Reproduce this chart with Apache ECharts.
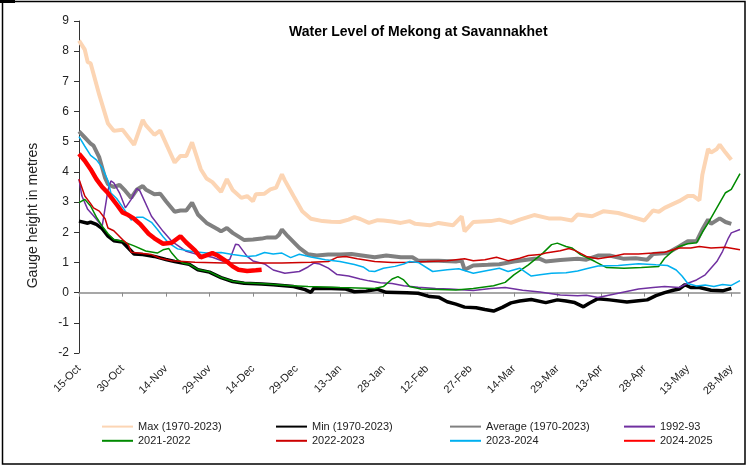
<!DOCTYPE html>
<html lang="en">
<head>
<meta charset="UTF-8">
<title>Water Level of Mekong at Savannakhet</title>
<script src="https://cdn.jsdelivr.net/npm/echarts@6/dist/echarts.min.js"></script>
<style>
  html, body { margin: 0; padding: 0; background: #fff; }
  #main { width: 747px; height: 465px; }
</style>
</head>
<body>
<div id="main"></div>
<script type="text/javascript">
// x categories: one per day, index 0 = 15-Oct ... 228 = 31-May
var monthNames = ['Jan','Feb','Mar','Apr','May','Jun','Jul','Aug','Sep','Oct','Nov','Dec'];
var days = [];
for (var i = 0; i < 229; i++) {
    var d = new Date(2024, 9, 15 + i);
    days.push(d.getDate() + '-' + monthNames[d.getMonth()]);
}

// [day index, gauge height (m)]
var maxLvl = [[0,8.35],[2,8.05],[3,7.64],[4,7.6],[7,6.55],[10,5.6],[12,5.36],[15,5.4],[19,4.9],[22,5.72],[23,5.55],[26,5.23],[28,5.37],[33,4.31],[35,4.53],[37,4.53],[39,4.98],[42,4.09],[44,3.78],[46,3.66],[49,3.34],[51,3.76],[53,3.4],[56,3.14],[58,3.2],[60,3.03],[61,3.26],[64,3.28],[66,3.42],[68,3.48],[69,3.7],[70,3.92],[71,3.72],[74,3.2],[77,2.7],[80,2.45],[84,2.37],[87,2.35],[90,2.34],[93,2.42],[95,2.5],[97,2.44],[100,2.31],[103,2.4],[105,2.39],[108,2.36],[111,2.31],[114,2.37],[116,2.28],[121,2.23],[124,2.31],[129,2.23],[132,2.53],[133,2.03],[136,2.34],[142,2.37],[145,2.42],[149,2.31],[152,2.42],[157,2.57],[162,2.46],[166,2.46],[170,2.39],[172,2.59],[177,2.53],[181,2.7],[186,2.64],[191,2.5],[195,2.39],[198,2.72],[200,2.68],[202,2.81],[207,3.03],[210,3.2],[212,3.2],[214,3.06],[215,3.9],[217,4.76],[218,4.64],[220,4.76],[221,4.9],[223,4.64],[225,4.4]];
var minLvl = [[0,2.37],[3,2.3],[4,2.34],[6,2.26],[8,2.12],[10,1.87],[12,1.72],[15,1.68],[17,1.48],[19,1.28],[22,1.26],[26,1.2],[30,1.1],[33,1.03],[38,0.94],[41,0.76],[45,0.68],[49,0.5],[53,0.37],[57,0.31],[63,0.29],[67,0.26],[74,0.2],[78,0.1],[80,0.01],[81,0.14],[87,0.14],[92,0.12],[95,0.03],[99,0.05],[103,0.11],[106,0.01],[113,0.0],[117,-0.02],[121,-0.13],[124,-0.15],[127,-0.3],[130,-0.38],[133,-0.48],[137,-0.5],[140,-0.56],[143,-0.61],[146,-0.49],[149,-0.34],[152,-0.28],[156,-0.23],[161,-0.33],[165,-0.24],[168,-0.28],[171,-0.33],[174,-0.47],[176,-0.35],[179,-0.2],[183,-0.24],[189,-0.31],[193,-0.27],[196,-0.24],[199,-0.1],[202,0.0],[205,0.08],[207,0.12],[209,0.26],[211,0.17],[214,0.17],[218,0.08],[222,0.06],[225,0.14]];
var avgLvl = [[0,5.34],[2,5.14],[4,4.94],[5,4.87],[7,4.48],[9,3.8],[10,3.59],[12,3.5],[14,3.57],[16,3.37],[18,3.14],[20,3.42],[22,3.53],[23,3.42],[26,3.26],[28,3.28],[30,3.03],[33,2.68],[35,2.72],[37,2.72],[39,2.98],[41,2.59],[44,2.31],[48,2.09],[49,2.03],[51,2.14],[53,1.98],[57,1.74],[60,1.76],[63,1.79],[65,1.83],[68,1.83],[69,1.92],[70,2.09],[72,1.87],[76,1.48],[79,1.27],[82,1.23],[86,1.26],[90,1.26],[94,1.28],[97,1.24],[102,1.17],[106,1.23],[111,1.17],[115,1.17],[117,1.06],[124,1.06],[130,1.03],[132,1.06],[133,0.76],[136,0.9],[141,0.92],[145,0.94],[150,1.03],[157,1.12],[159,1.12],[161,1.03],[166,1.08],[172,1.12],[175,1.09],[179,1.23],[183,1.23],[188,1.12],[192,1.14],[196,1.09],[198,1.28],[203,1.31],[207,1.53],[210,1.7],[213,1.7],[215,2.09],[217,2.42],[218,2.28],[221,2.46],[223,2.34],[225,2.28]];
var y1992 = [[0,3.76],[1,3.2],[3,2.76],[5,2.55],[8,2.2],[10,3.4],[11,3.7],[12,3.64],[14,3.3],[16,2.81],[18,3.09],[20,3.45],[21,3.37],[25,2.53],[29,2.03],[32,1.7],[37,1.37],[41,1.26],[46,1.17],[50,1.03],[52,1.1],[54,1.6],[55,1.59],[58,1.2],[60,1.05],[64,0.95],[67,0.75],[71,0.64],[76,0.7],[79,0.85],[81,0.98],[83,0.95],[86,0.81],[89,0.6],[93,0.55],[97,0.45],[100,0.39],[104,0.33],[108,0.3],[112,0.23],[117,0.18],[123,0.14],[128,0.12],[136,0.07],[142,0.14],[147,0.17],[153,0.08],[159,0.02],[166,-0.08],[172,-0.1],[175,-0.09],[179,-0.16],[186,-0.02],[193,0.12],[198,0.17],[202,0.2],[207,0.17],[210,0.31],[213,0.42],[216,0.59],[220,1.03],[222,1.37],[224,1.81],[225,1.98],[228,2.09]];
var y2021 = [[0,2.98],[2,3.09],[4,2.87],[6,2.5],[8,2.2],[10,1.95],[12,1.76],[15,1.7],[19,1.55],[23,1.38],[27,1.31],[29,1.42],[31,1.46],[32,1.31],[34,1.09],[36,0.97],[38,0.94],[41,0.77],[45,0.69],[49,0.5],[53,0.38],[57,0.33],[65,0.29],[72,0.24],[79,0.2],[90,0.17],[102,0.14],[105,0.2],[108,0.45],[110,0.53],[112,0.42],[114,0.2],[118,0.12],[130,0.09],[136,0.14],[143,0.23],[147,0.34],[150,0.59],[155,0.92],[160,1.31],[163,1.59],[165,1.64],[168,1.53],[170,1.48],[173,1.26],[178,1.03],[182,0.83],[188,0.81],[194,0.83],[200,0.87],[202,1.14],[205,1.4],[207,1.53],[210,1.62],[213,1.65],[215,2.0],[217,2.3],[220,2.81],[223,3.31],[225,3.42],[228,3.94]];
var y2022 = [[0,3.76],[2,3.2],[4,2.95],[5,2.81],[7,2.7],[9,2.45],[10,2.14],[12,2.05],[15,1.76],[17,1.59],[18,1.34],[22,1.3],[25,1.26],[28,1.14],[32,1.06],[40,1.01],[50,0.98],[60,0.98],[70,0.98],[80,1.01],[86,1.03],[89,1.17],[92,1.2],[96,1.12],[102,1.03],[108,1.0],[115,1.01],[120,1.03],[127,1.06],[133,1.12],[136,1.06],[140,1.09],[144,1.17],[148,1.06],[152,1.14],[155,1.23],[159,1.26],[161,1.31],[166,1.39],[169,1.46],[171,1.4],[175,1.2],[179,1.12],[184,1.2],[188,1.28],[193,1.28],[198,1.31],[202,1.34],[207,1.48],[211,1.48],[214,1.53],[218,1.48],[223,1.5],[228,1.42]];
var y2023 = [[0,5.17],[2,4.85],[4,4.55],[6,4.4],[8,4.15],[10,3.7],[11,3.3],[13,3.12],[16,2.7],[18,2.4],[20,2.5],[22,2.5],[25,2.33],[27,2.1],[29,1.85],[31,1.64],[34,1.45],[39,1.36],[44,1.31],[49,1.33],[53,1.26],[58,1.2],[61,1.22],[64,1.33],[67,1.28],[70,1.31],[73,1.16],[76,1.27],[80,1.18],[85,1.09],[90,1.03],[95,0.93],[98,0.85],[100,0.72],[102,0.7],[105,0.81],[109,0.87],[112,0.95],[114,1.03],[117,1.0],[122,0.7],[127,0.76],[131,0.79],[136,0.64],[140,0.72],[145,0.81],[148,0.7],[152,0.81],[156,0.55],[159,0.59],[163,0.64],[168,0.66],[172,0.72],[175,0.79],[179,0.88],[186,0.9],[193,0.96],[199,0.92],[203,0.9],[206,0.75],[208,0.55],[210,0.3],[213,0.22],[216,0.25],[219,0.2],[222,0.27],[225,0.24],[228,0.4]];
var y2024 = [[0,4.6],[2,4.37],[4,4.09],[6,3.76],[8,3.5],[10,3.3],[13,2.92],[15,2.66],[17,2.57],[19,2.45],[21,2.28],[24,1.95],[26,1.8],[29,1.62],[32,1.65],[35,1.87],[37,1.66],[40,1.4],[42,1.17],[46,1.31],[48,1.22],[51,1.03],[53,0.87],[55,0.76],[58,0.72],[61,0.74],[63,0.76]];

var font = 'Liberation Sans, Arial, sans-serif';
var myChart = echarts.init(document.getElementById('main'));

function line(name, data, color, width) {
    return {
        name: name, type: 'line', data: data, symbol: 'none',
        lineStyle: { color: color, width: width }, itemStyle: { color: color },
        emphasis: { disabled: true }
    };
}
function legendCol(left, names) {
    return {
        orient: 'vertical', left: left, top: 421, padding: 0,
        itemWidth: 31, itemHeight: 14, itemGap: 3,
        itemStyle: { opacity: 0 },
        textStyle: { fontSize: 11, color: '#222', fontFamily: font },
        data: names
    };
}

var option = {
    animation: false,
    backgroundColor: '#fff',
    title: {
        text: 'Water Level of Mekong at Savannakhet',
        left: 289, top: 25, padding: 0,
        textStyle: { fontSize: 14, fontWeight: 'bold', color: '#000', fontFamily: font }
    },
    legend: [
        legendCol(101, ['Max (1970-2023)', '2021-2022']),
        legendCol(275, ['Min (1970-2023)', '2022-2023']),
        legendCol(449, ['Average (1970-2023)', '2023-2024']),
        legendCol(623, ['1992-93', '2024-2025'])
    ],
    grid: { left: 79, right: 7, top: 21, bottom: 112 },
    xAxis: {
        type: 'category', data: days, boundaryGap: false,
        axisLine: { lineStyle: { color: '#8a8a8a', width: 1.5 } },
        axisTick: { interval: 14, length: 4, lineStyle: { color: '#8a8a8a' } },
        axisLabel: { interval: 14, rotate: 45, margin: 14, fontSize: 11, color: '#222', fontFamily: font },
        splitLine: { show: false }
    },
    yAxis: {
        type: 'value', min: -2, max: 9, interval: 1,
        name: 'Gauge height in metres', nameLocation: 'middle', nameGap: 39,
        nameTextStyle: { fontSize: 14, color: '#222', fontFamily: font, padding: [0, 57, 0, 0] },
        axisLine: { show: true, lineStyle: { color: '#333', width: 1 } },
        axisTick: { show: true, length: 5, lineStyle: { color: '#333' } },
        axisLabel: { fontSize: 12, color: '#222', margin: 10, fontFamily: font },
        splitLine: { show: false }
    },
    graphic: [{
        type: 'rect', silent: true,
        shape: { x: 2.5, y: 1.5, width: 742.5, height: 462.5 },
        style: { fill: 'none', stroke: '#000', lineWidth: 1.5 }
    }, {
        type: 'rect', silent: true,
        shape: { x: 0, y: 0, width: 15, height: 3 },
        style: { fill: '#000' }
    }],
    series: [
        line('Max (1970-2023)', maxLvl, '#fcd5b4', 4),
        line('Min (1970-2023)', minLvl, '#000000', 3.5),
        line('Average (1970-2023)', avgLvl, '#808080', 4),
        line('1992-93', y1992, '#7030a0', 1.5),
        line('2021-2022', y2021, '#008a00', 1.5),
        line('2022-2023', y2022, '#cc0000', 1.5),
        line('2023-2024', y2023, '#00b0f0', 1.5),
        line('2024-2025', y2024, '#ff0000', 4.5)
    ]
};
myChart.setOption(option);
</script>
</body>
</html>
